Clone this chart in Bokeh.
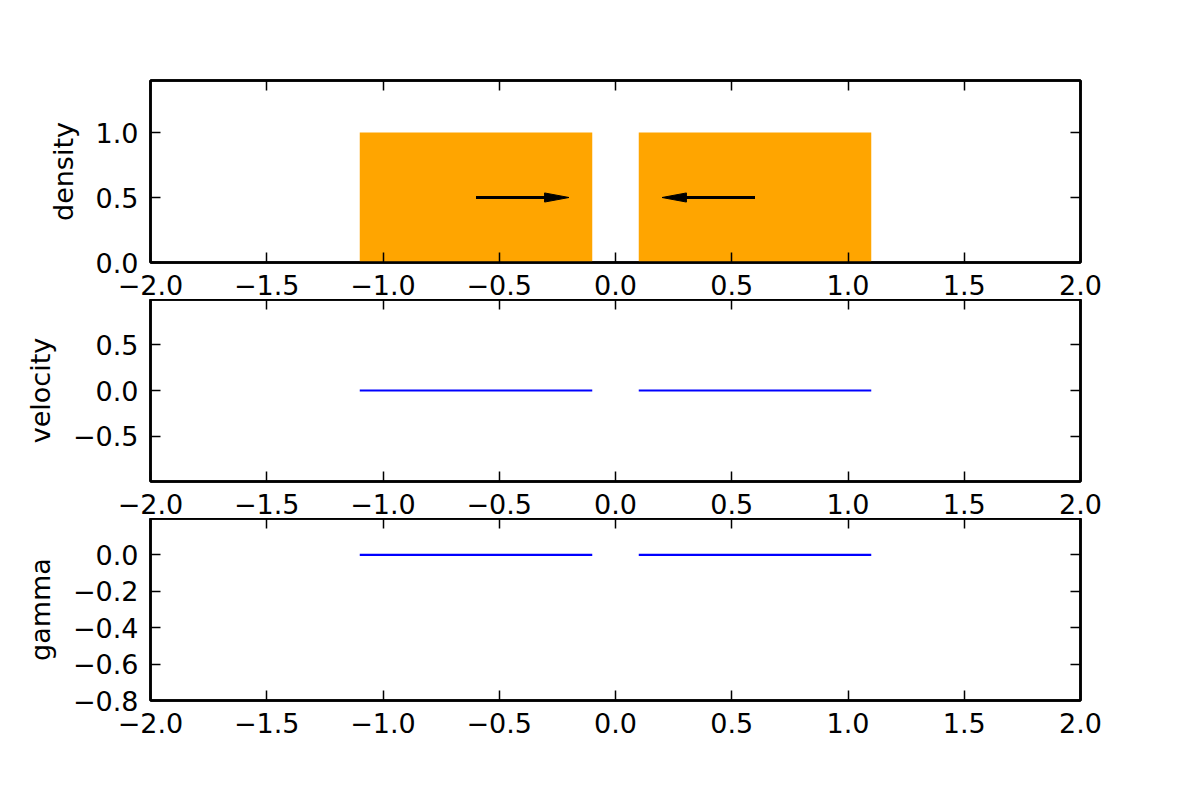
from bokeh.plotting import figure
from bokeh.layouts import column
from bokeh.models import (LinearAxis, FixedTicker, CustomJSTickFormatter, Range1d)
from bokeh.embed import file_html
from bokeh.resources import INLINE

# ---- data ----
block_left = [-1.1, 0.1]
block_right = [-0.1, 1.1]
density = [1.0, 1.0]
velocity = [0.0, 0.0]
gamma = [0.0, 0.0]

arrow_x = [-0.6, 0.6]
arrow_dx = [0.3, -0.3]
arrow_y = [0.5, 0.5]
arrow_head_len = 0.1
arrow_head_w = 0.07

x_ticks = [-2.0, -1.5, -1.0, -0.5, 0.0, 0.5, 1.0, 1.5, 2.0]
density_ticks = [0.0, 0.5, 1.0]
velocity_ticks = [-0.5, 0.0, 0.5]
gamma_ticks = [-0.8, -0.6, -0.4, -0.2, 0.0]

x_lim = (-2.0, 2.0)
density_lim = (0.0, 1.4)
velocity_lim = (-0.99, 0.99)
gamma_lim = (-0.8, 0.2)

# ---- style ----
FONT = "DejaVu Sans"
FS = "27px"
W = 1184
FRAME_H = 182

num_fmt = "return tick.toFixed(1).replace('-', '\u2212');"


def style_axis(ax, labels=True):
    ax.axis_line_width = 2.5
    ax.axis_line_color = "black"
    ax.major_tick_in = 10
    ax.major_tick_out = 0
    ax.major_tick_line_width = 1.5
    ax.major_tick_line_color = "black"
    ax.minor_tick_line_color = None
    ax.major_label_text_font = FONT
    ax.major_label_text_font_size = FS if labels else "0px"
    ax.major_label_text_color = "black"
    ax.axis_label_text_font = FONT
    ax.axis_label_text_font_size = FS
    ax.axis_label_text_font_style = "normal"
    ax.axis_label_text_color = "black"


def make_fig(ylabel, ylim, yticks, top, bottom):
    p = figure(width=W, height=top + FRAME_H + bottom,
               x_range=Range1d(*x_lim), y_range=Range1d(*ylim),
               output_backend="svg", toolbar_location=None,
               min_border_left=150, min_border_right=W - 1080,
               min_border_top=top, min_border_bottom=bottom)
    p.grid.visible = False
    p.outline_line_color = "black"
    p.outline_line_width = 2.5
    p.background_fill_color = "white"
    p.border_fill_color = "white"

    xa = p.xaxis[0]
    xa.ticker = FixedTicker(ticks=x_ticks)
    xa.formatter = CustomJSTickFormatter(code=num_fmt)
    style_axis(xa)
    xa.major_label_standoff = 12

    ya = p.yaxis[0]
    ya.ticker = FixedTicker(ticks=yticks)
    ya.formatter = CustomJSTickFormatter(code=num_fmt)
    style_axis(ya)
    ya.major_label_standoff = 12
    ya.axis_label = ylabel
    ya.axis_label_standoff = 14

    top_ax = LinearAxis(ticker=FixedTicker(ticks=x_ticks),
                        formatter=CustomJSTickFormatter(code="return '';"))
    style_axis(top_ax, labels=False)
    top_ax.major_label_standoff = 0
    p.add_layout(top_ax, "above")

    right_ax = LinearAxis(ticker=FixedTicker(ticks=yticks),
                          formatter=CustomJSTickFormatter(code="return '';"))
    style_axis(right_ax, labels=False)
    right_ax.major_label_standoff = 0
    p.add_layout(right_ax, "right")
    return p


# density panel
p1 = make_fig("density", density_lim, density_ticks, 80, 37)
p1.quad(left=block_left, right=block_right, bottom=[0.0] * len(density), top=density,
        fill_color="#FFA500", line_color=None)

shaft_x0 = arrow_x
shaft_x1 = [x + dx for x, dx in zip(arrow_x, arrow_dx)]
p1.segment(x0=shaft_x0, y0=arrow_y, x1=shaft_x1, y1=arrow_y,
           line_color="black", line_width=3)
head_xs, head_ys = [], []
for x1, dx, y in zip(shaft_x1, arrow_dx, arrow_y):
    s = 1 if dx > 0 else -1
    head_xs.append([x1 - s * 0.005, x1 + s * arrow_head_len, x1 - s * 0.005])
    head_ys.append([y + arrow_head_w / 2, y, y - arrow_head_w / 2])
p1.patches(xs=head_xs, ys=head_ys, fill_color="black", line_color="black", line_width=1)

# velocity panel
p2 = make_fig("velocity", velocity_lim, velocity_ticks, 0, 37)
p2.segment(x0=block_left, y0=velocity, x1=block_right, y1=velocity,
           line_color="blue", line_width=2.2)

# gamma panel
p3 = make_fig("gamma", gamma_lim, gamma_ticks, 0, 50)
p3.segment(x0=block_left, y0=gamma, x1=block_right, y1=gamma,
           line_color="blue", line_width=2.2)

layout = column(p1, p2, p3, spacing=0)

with open("out.html", "w") as f:
    f.write(file_html(layout, INLINE))
